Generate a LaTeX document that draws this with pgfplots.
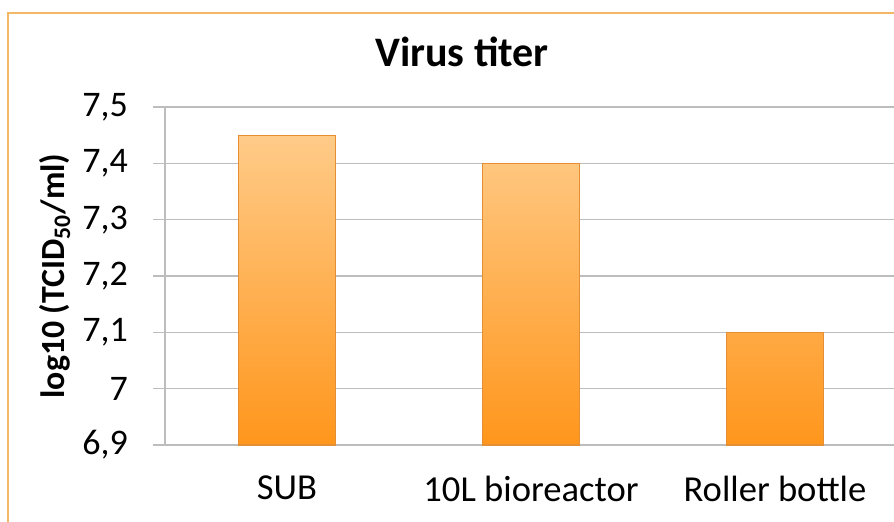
\documentclass[border=0pt]{standalone}
\usepackage{pgfplots}
\pgfplotsset{compat=1.18}
\usepackage{fontspec}
\setmainfont{Carlito}
\definecolor{frameor}{HTML}{F2B866}
\definecolor{bartop}{HTML}{FFCB88}
\definecolor{barbot}{HTML}{FF961C}
\definecolor{baredge}{HTML}{E58E34}
\definecolor{gridgray}{HTML}{BDBDBD}
\begin{document}
\begin{tikzpicture}[x=0.5pt,y=0.5pt]
\useasboundingbox (0,0) rectangle (894,522);
\clip (0,0) rectangle (894,522);
\fill[white] (0,0) rectangle (894,522);
\draw[frameor, line width=1pt] (8,-20) -- (8,509) -- (920,509);
\begin{axis}[
  at={(165pt*0.5,77pt*0.5)}, anchor=south west,
  scale only axis,
  width=366pt, height=169pt,
  xmin=-0.5, xmax=2.5,
  ymin=6.9, ymax=7.5,
  ytick={6.9,7.0,7.1,7.2,7.3,7.4,7.5},
  xtick={0,1,2},
  xticklabels={SUB,10L bioreactor,Roller bottle},
  axis x line*=bottom,
  x axis line style={draw=none},
  xtick style={draw=none},
  axis y line*=left,
  y axis line style={gridgray, line width=0.8pt, -},
  ymajorgrids,
  grid style={gridgray, line width=0.8pt},
  ytick style={gridgray, line width=0.8pt},
  tick align=outside,
  major tick length=6pt,
  /pgf/number format/.cd, use comma, fixed, precision=1, assume math mode=true,
  /pgfplots/.cd,
  yticklabel style={font=\fontsize{18}{20}\selectfont, black, xshift=-9pt},
  xticklabel style={font=\fontsize{18.3}{20}\selectfont, black, yshift=-6pt},
  ylabel={\textbf{log10 (TCID\textsubscript{50}/ml)}},
  ylabel style={font=\fontsize{16.9}{18}\selectfont, at={(axis description cs:-0.150,0.5)}, anchor=center},
  clip=false,
]
\addplot[ybar, bar width=0.4, draw=baredge, line width=0.6pt, top color=bartop, bottom color=barbot]
  coordinates {(0,7.45) (1,7.40) (2,7.10)};
\end{axis}
\node[font=\fontsize{21}{24}\selectfont\bfseries] at (462,470) {Virus titer};
\end{tikzpicture}
\end{document}
